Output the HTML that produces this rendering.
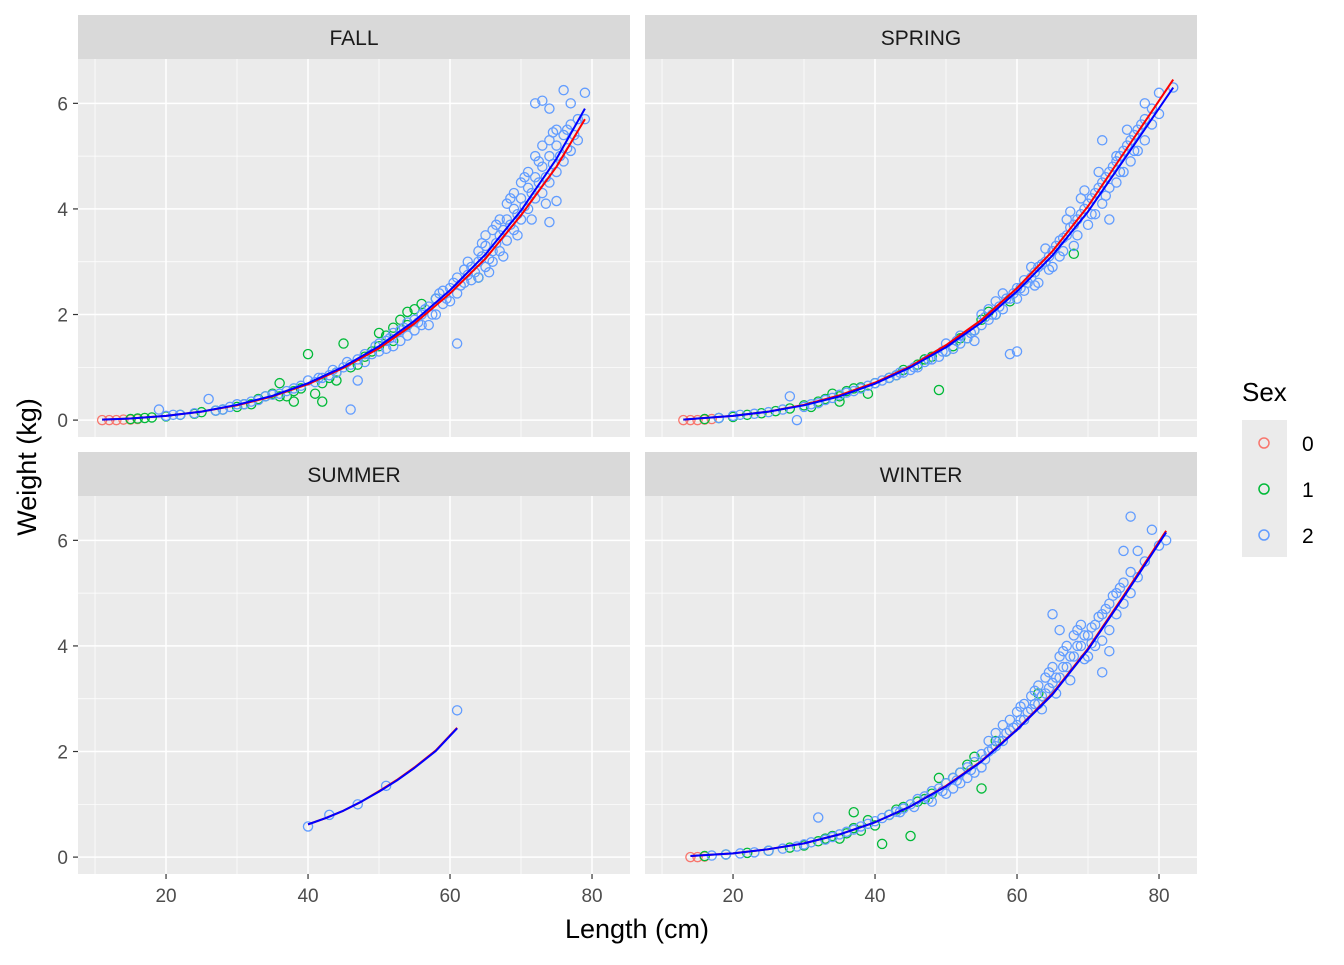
<!DOCTYPE html>
<html><head><meta charset="utf-8"><style>
body{margin:0;background:#fff;}
svg text{font-family:"Liberation Sans",sans-serif;}
</style></head><body>
<svg id="chart" width="1344" height="960" xmlns="http://www.w3.org/2000/svg">
<rect width="1344" height="960" fill="#fff"/>
<g id="panels"></g>
<text x="637" y="938" font-size="27" text-anchor="middle" fill="#000">Length (cm)</text>
<text transform="translate(36,467) rotate(-90)" font-size="27" text-anchor="middle" fill="#000">Weight (kg)</text>
<g>
<text x="1242" y="401" font-size="26">Sex</text>
<rect x="1242" y="420" width="45" height="137" fill="#ebebeb"/>
<circle cx="1264" cy="443" r="5" fill="none" stroke="#F8766D" stroke-width="1.5"/>
<circle cx="1264" cy="489" r="5" fill="none" stroke="#00BA38" stroke-width="1.5"/>
<circle cx="1264" cy="535" r="5" fill="none" stroke="#619CFF" stroke-width="1.5"/>
<text x="1302" y="451" font-size="21">0</text>
<text x="1302" y="497" font-size="21">1</text>
<text x="1302" y="543" font-size="21">2</text>
</g>
</svg>
<script>
const xTicks=[20,40,60,80];
const yTicks=[0,2,4,6];
const seasons=["FALL","SPRING","SUMMER","WINTER"];
const fallSex0=[[11,0],[12,0],[13,0],[14,0.01],[15,0.01],[16,0.02]];
const fallSex1=[[15,0.02],[16,0.03],[17,0.04],[18,0.05],[20,0.07],[22,0.1],[24,0.12],[25,0.15],[27,0.18],[28,0.2],[30,0.25],[31,0.3],[33,0.4],[34,0.45],[35,0.5],[36,0.7],[37,0.45],[38,0.55],[39,0.6],[40,1.25],[41,0.5],[42,0.35],[43,0.8],[44,0.9],[45,1.45],[46,1.0],[47,1.05],[48,1.2],[50,1.4],[51,1.6],[52,1.5],[53,1.9],[54,1.8],[55,2.1],[56,2.2],[58,2.3],[64,2.7],[32,0.3],[36,0.45],[38,0.35],[42,0.7],[44,0.75],[49,1.3],[50,1.65],[52,1.75],[54,2.05]];
const fallSex2=[[19,0.2],[20,0.08],[21,0.1],[22,0.1],[24,0.13],[26,0.4],[27,0.18],[28,0.2],[29,0.25],[30,0.3],[31,0.3],[32,0.35],[33,0.38],[34,0.45],[35,0.48],[36,0.5],[37,0.55],[38,0.6],[39,0.65],[40,0.75],[41,0.72],[42,0.8],[43,0.85],[44,0.9],[45,1.0],[46,0.2],[46,1.05],[47,0.75],[47,1.15],[48,1.1],[48,1.25],[49,1.25],[50,1.3],[50,1.45],[51,1.5],[51,1.35],[52,1.4],[52,1.65],[53,1.7],[53,1.5],[54,1.6],[54,1.85],[55,1.9],[55,1.7],[56,2.0],[56,1.8],[57,1.8],[57,2.15],[58,2.3],[58,2.0],[59,2.2],[59,2.45],[60,2.5],[60,2.25],[61,1.45],[61,2.7],[61,2.4],[62,2.6],[62,2.85],[63,2.9],[63,2.65],[64,3.0],[64,2.7],[64,3.2],[65,3.3],[65,2.9],[65,3.5],[66,3.2],[66,3.6],[66,3.0],[67,3.5],[67,3.8],[67,3.2],[68,3.8],[68,3.4],[68,4.1],[69,4.0],[69,3.6],[69,4.3],[70,4.2],[70,3.8],[70,4.5],[71,4.4],[71,4.0],[71,4.7],[72,4.6],[72,4.2],[72,5.0],[73,4.8],[73,4.3],[73,5.2],[74,5.0],[74,4.5],[74,3.75],[74,5.3],[75,5.2],[75,4.7],[75,5.5],[76,5.4],[76,4.9],[76,6.25],[77,5.6],[77,6.0],[77,5.1],[78,5.7],[78,5.3],[79,6.2],[79,5.7],[72,6.0],[73,6.05],[75,4.15],[74,5.9],
[58.5,2.4],[59.5,2.3],[60.5,2.6],[61.5,2.55],[62.5,2.75],[63.5,2.8],[64.5,3.1],[65.5,3.05],[66.5,3.35],[67.5,3.6],[68.5,3.7],[69.5,3.9],[70.5,4.05],[71.5,4.3],[72.5,4.5],[73.5,4.6],[74.5,4.85],[75.5,5.0],[76.5,5.15],[77.5,5.4],[62.5,3.0],[64.5,3.35],[66.5,3.7],[68.5,4.2],[70.5,4.6],[72.5,4.9],[74.5,5.45],[76.5,5.5],[65.5,2.8],[67.5,3.1],[69.5,3.5],[71.5,3.8],[73.5,4.1],[56.5,2.1],[57.5,2.0],[55.5,1.85],[53.5,1.75],[51.5,1.55],[49.5,1.4],[45.5,1.1],[43.5,0.95],[41.5,0.8]];
const fallRed=[[11,0.01],[15,0.03],[20,0.08],[25,0.16],[30,0.28],[35,0.45],[40,0.68],[45,0.99],[50,1.36],[55,1.83],[60,2.4],[65,3.06],[70,3.88],[75,4.8],[79,5.7]];
const fallBlue=[[11,0.01],[15,0.03],[20,0.08],[25,0.16],[30,0.29],[35,0.46],[40,0.7],[45,1.01],[50,1.4],[55,1.88],[60,2.46],[65,3.14],[70,3.97],[75,4.95],[79,5.9]];
const springSex0=[[13,0],[14,0],[15,0],[16,0.01],[17,0.02]];
const springSex1=[[16,0.02],[18,0.04],[20,0.06],[22,0.1],[24,0.13],[26,0.17],[28,0.22],[30,0.28],[32,0.35],[33,0.4],[34,0.5],[35,0.45],[36,0.55],[37,0.6],[38,0.62],[40,0.7],[42,0.8],[44,0.95],[46,1.05],[48,1.2],[49,0.57],[50,1.3],[52,1.55],[54,1.7],[55,1.9],[57,2.0],[59,2.25],[68,3.15],[31,0.25],[35,0.35],[39,0.5],[43,0.85],[47,1.15],[51,1.4],[53,1.55],[56,2.05]];
const springSex2=[[18,0.04],[20,0.08],[21,0.1],[23,0.12],[25,0.15],[27,0.2],[28,0.45],[29,0.0],[30,0.25],[31,0.3],[32,0.32],[33,0.38],[34,0.42],[35,0.48],[36,0.52],[37,0.55],[38,0.6],[39,0.65],[40,0.7],[41,0.75],[42,0.8],[43,0.85],[44,0.9],[45,0.95],[46,1.0],[47,1.1],[48,1.15],[49,1.2],[50,1.3],[50,1.45],[51,1.35],[52,1.45],[52,1.6],[53,1.55],[54,1.7],[54,1.5],[55,1.8],[55,2.0],[56,1.9],[56,2.1],[57,2.0],[57,2.25],[58,2.1],[58,2.4],[59,2.3],[59,1.25],[60,2.5],[60,1.3],[60,2.3],[61,2.65],[61,2.45],[62,2.7],[62,2.9],[63,2.9],[63,2.6],[64,3.0],[64,3.25],[65,3.2],[65,2.9],[66,3.4],[66,3.1],[67,3.5],[67,3.8],[68,3.7],[68,3.3],[69,3.9],[69,4.2],[70,4.1],[70,3.7],[71,4.3],[71,3.9],[72,4.5],[72,4.1],[73,4.7],[73,4.4],[73,3.8],[74,4.9],[74,4.5],[75,5.1],[75,4.7],[76,5.3],[76,4.9],[77,5.5],[77,5.1],[78,5.7],[78,5.3],[78,6.0],[79,5.9],[79,5.6],[80,6.2],[80,5.8],[82,6.3],[72,5.3],[74,5.0],
[55.5,1.95],[56.5,2.0],[57.5,2.15],[58.5,2.3],[59.5,2.4],[60.5,2.5],[61.5,2.6],[62.5,2.8],[63.5,2.95],[64.5,3.1],[65.5,3.3],[66.5,3.45],[67.5,3.65],[68.5,3.8],[69.5,4.0],[70.5,4.2],[71.5,4.4],[72.5,4.6],[73.5,4.8],[74.5,5.0],[75.5,5.2],[76.5,5.4],[77.5,5.6],[62.5,2.55],[64.5,2.85],[66.5,3.2],[68.5,3.5],[70.5,3.9],[72.5,4.25],[74.5,4.7],[76.5,5.1],[67.5,3.95],[69.5,4.35],[71.5,4.7],[75.5,5.5],[53.5,1.65],[51.5,1.5],[49.5,1.3],[47.5,1.15],[45.5,1.0],[43.5,0.9]];
const springRed=[[13,0.01],[15,0.03],[20,0.08],[25,0.16],[30,0.29],[35,0.47],[40,0.71],[45,1.02],[50,1.42],[55,1.9],[60,2.5],[65,3.2],[70,4.05],[75,5.05],[82,6.45]];
const springBlue=[[13,0.01],[15,0.03],[20,0.08],[25,0.16],[30,0.28],[35,0.45],[40,0.69],[45,1.0],[50,1.38],[55,1.85],[60,2.44],[65,3.12],[70,3.95],[75,4.92],[82,6.3]];
const summerSex2=[[40,0.58],[43,0.8],[47,1.0],[51,1.35],[61,2.78]];
const summerRed=[[40,0.62],[42.5,0.74],[45,0.88],[47.5,1.05],[50,1.25],[52.5,1.46],[55,1.7],[58,2.02],[61,2.45]];
const summerBlue=[[40,0.62],[42.5,0.74],[45,0.88],[47.5,1.05],[50,1.24],[52.5,1.45],[55,1.69],[58,2.01],[61,2.44]];
const winterSex0=[[14,0],[15,0],[16,0.01]];
const winterSex1=[[16,0.02],[19,0.05],[22,0.08],[25,0.12],[28,0.18],[30,0.22],[32,0.3],[34,0.4],[35,0.35],[36,0.45],[37,0.85],[38,0.5],[39,0.7],[40,0.6],[41,0.25],[42,0.8],[44,0.95],[45,0.4],[46,1.05],[48,1.2],[49,1.5],[50,1.4],[52,1.6],[54,1.9],[55,1.3],[57,2.2],[63,3.1],[33,0.35],[37,0.55],[43,0.9],[47,1.1],[51,1.5],[53,1.75]];
const winterSex2=[[17,0.03],[19,0.05],[21,0.07],[23,0.09],[25,0.12],[27,0.16],[29,0.2],[30,0.24],[31,0.28],[32,0.75],[33,0.33],[34,0.38],[35,0.43],[36,0.48],[37,0.52],[38,0.58],[39,0.63],[40,0.68],[41,0.74],[42,0.8],[43,0.86],[44,0.92],[45,1.0],[46,1.1],[47,1.15],[48,1.25],[48,1.05],[49,1.3],[50,1.4],[50,1.2],[51,1.5],[51,1.3],[52,1.6],[52,1.4],[53,1.7],[53,1.5],[54,1.8],[54,1.6],[55,1.95],[55,1.7],[56,2.0],[56,2.2],[57,2.1],[57,2.35],[58,2.2],[58,2.5],[59,2.4],[59,2.6],[60,2.5],[60,2.75],[61,2.6],[61,2.9],[62,2.8],[62,3.05],[63,2.9],[63,3.25],[64,3.1],[64,3.4],[65,3.3],[65,3.6],[65,4.6],[66,3.4],[66,3.8],[66,4.3],[67,3.6],[67,4.0],[68,3.8],[68,4.2],[69,4.0],[69,4.4],[70,4.2],[70,3.8],[71,4.4],[71,4.0],[72,4.6],[72,4.1],[72,3.5],[73,4.8],[73,4.3],[74,5.0],[74,4.6],[75,5.2],[75,4.8],[75,5.8],[76,6.45],[76,5.4],[77,5.8],[77,5.3],[78,5.6],[79,6.2],[80,5.9],[81,6.0],[76,5.0],[73,3.9],
[55.5,1.85],[56.5,2.05],[57.5,2.2],[58.5,2.35],[59.5,2.45],[60.5,2.6],[61.5,2.75],[62.5,2.9],[63.5,3.05],[64.5,3.2],[65.5,3.4],[66.5,3.6],[67.5,3.8],[68.5,4.0],[69.5,4.2],[70.5,4.35],[71.5,4.55],[72.5,4.7],[73.5,4.95],[74.5,5.1],[60.5,2.85],[62.5,3.15],[64.5,3.5],[66.5,3.9],[68.5,4.3],[70.5,4.05],[63.5,2.8],[65.5,3.1],[67.5,3.35],[69.5,3.75],[53.5,1.65],[51.5,1.45],[49.5,1.25],[47.5,1.1],[45.5,0.95],[43.5,0.85]];
const winterRed=[[14,0.02],[20,0.07],[25,0.15],[30,0.26],[35,0.43],[40,0.66],[45,0.96],[50,1.35],[55,1.82],[60,2.42],[65,3.1],[70,3.95],[75,4.95],[81,6.18]];
const winterBlue=[[14,0.02],[20,0.07],[25,0.15],[30,0.26],[35,0.43],[40,0.66],[45,0.96],[50,1.34],[55,1.81],[60,2.41],[65,3.08],[70,3.93],[75,4.92],[81,6.15]];

const NS="http://www.w3.org/2000/svg";
const xMin=7.6,xMax=85.35,yMin=-0.32,yMax=6.84,PW=552,PH=378;
const panelDefs=[
 {name:"FALL",x0:78,y0:59,pts:[[fallSex0,"#F8766D"],[fallSex1,"#00BA38"],[fallSex2,"#619CFF"]],red:fallRed,blue:fallBlue,bottom:false,left:true},
 {name:"SPRING",x0:645,y0:59,pts:[[springSex0,"#F8766D"],[springSex1,"#00BA38"],[springSex2,"#619CFF"]],red:springRed,blue:springBlue,bottom:false,left:false},
 {name:"SUMMER",x0:78,y0:496,pts:[[summerSex2,"#619CFF"]],red:summerRed,blue:summerBlue,bottom:true,left:true},
 {name:"WINTER",x0:645,y0:496,pts:[[winterSex0,"#F8766D"],[winterSex1,"#00BA38"],[winterSex2,"#619CFF"]],red:winterRed,blue:winterBlue,bottom:true,left:false}
];
function mk(tag,attrs,parent){const e=document.createElementNS(NS,tag);for(const k in attrs)e.setAttribute(k,attrs[k]);parent.appendChild(e);return e;}
const root=document.getElementById("panels");
panelDefs.forEach(p=>{
 const sx=L=>p.x0+(L-xMin)/(xMax-xMin)*PW;
 const sy=W=>p.y0+PH-(W-yMin)/(yMax-yMin)*PH;
 const g=mk("g",{},root);
 
 
 const strip=mk("rect",{x:p.x0,y:p.y0-44,width:PW,height:44,fill:"#d9d9d9"},g);
 
 
 const st=mk("text",{x:p.x0+PW/2,y:p.y0-14,"font-size":"21","text-anchor":"middle",fill:"#1a1a1a"},g);
 st.textContent=p.name;
 
 
 const bg=mk("rect",{x:p.x0,y:p.y0,width:PW,height:PH,fill:"#ebebeb"},g);
 
 
 [10,30,50,70].forEach(v=>mk("line",{x1:sx(v),x2:sx(v),y1:p.y0,y2:p.y0+PH,stroke:"#fff","stroke-width":0.7},g));
 [1,3,5].forEach(v=>mk("line",{x1:p.x0,x2:p.x0+PW,y1:sy(v),y2:sy(v),stroke:"#fff","stroke-width":0.7},g));
 xTicks.forEach(v=>mk("line",{x1:sx(v),x2:sx(v),y1:p.y0,y2:p.y0+PH,stroke:"#fff","stroke-width":1.5},g));
 yTicks.forEach(v=>mk("line",{x1:p.x0,x2:p.x0+PW,y1:sy(v),y2:sy(v),stroke:"#fff","stroke-width":1.5},g));
 p.pts.forEach(([arr,col])=>arr.forEach(([L,W])=>{
  const c=mk("circle",{cx:sx(L),cy:sy(W),r:4.6,fill:"none",stroke:col,"stroke-width":1.3},g);
  
  
 }));
 [[p.red,"#ff0000"],[p.blue,"#0000ff"]].forEach(([arr,col])=>{
  const l=mk("polyline",{points:arr.map(([L,W])=>sx(L)+","+sy(W)).join(" "),fill:"none",stroke:col,"stroke-width":2,"stroke-linejoin":"round"},g);
  
  
 });
 if(p.bottom) xTicks.forEach(v=>{
  mk("line",{x1:sx(v),x2:sx(v),y1:p.y0+PH,y2:p.y0+PH+5,stroke:"#333","stroke-width":1.2},g);
  const t=mk("text",{x:sx(v),y:p.y0+PH+28,"font-size":"19","text-anchor":"middle",fill:"#4d4d4d"},g);
  t.textContent=v;
  
  
 });
 if(p.left) yTicks.forEach(v=>{
  mk("line",{x1:p.x0-5,x2:p.x0,y1:sy(v),y2:sy(v),stroke:"#333","stroke-width":1.2},g);
  const t=mk("text",{x:p.x0-10,y:sy(v)+7,"font-size":"19","text-anchor":"end",fill:"#4d4d4d"},g);
  t.textContent=v;
  
  
 });
});
</script>
</body></html>
